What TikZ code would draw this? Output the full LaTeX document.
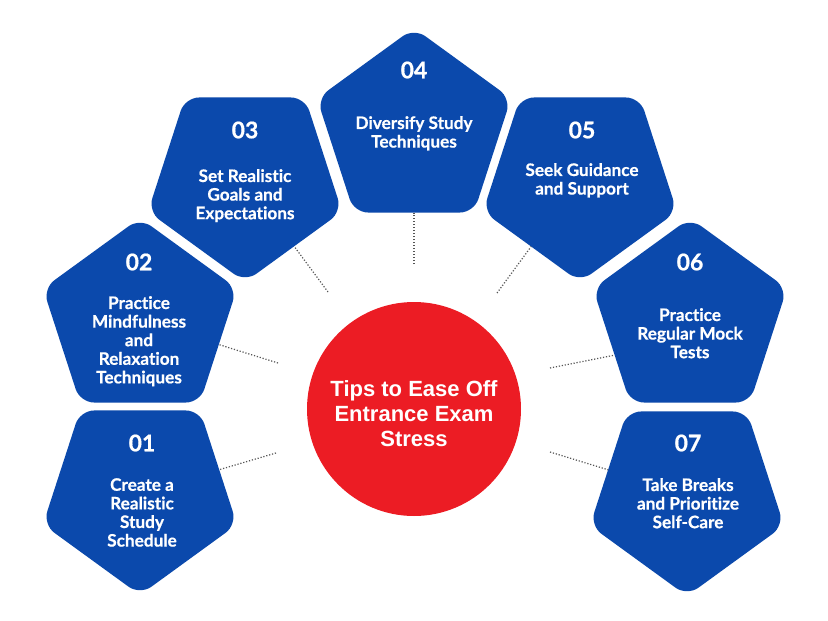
\documentclass[tikz,border=0pt]{standalone}
\usepackage{fontspec}
\setmainfont{Lato}[Ligatures={NoCommon,NoRare}]
\newfontfamily\titlefont{Liberation Sans}
\usetikzlibrary{shapes.geometric}
\definecolor{pentblue}{RGB}{11,73,172}
\definecolor{hubred}{RGB}{236,28,36}
\definecolor{dotgray}{RGB}{85,85,85}
\tikzset{
  pent/.style={regular polygon, regular polygon sides=5, minimum size=204pt,
    inner sep=0pt, outer sep=0pt, fill=pentblue, rounded corners=14pt},
  pentdown/.style={pent, shape border rotate=180},
  numtext/.style={text=white, font=\bfseries\fontsize{23}{26}\selectfont\addfontfeatures{FakeBold=0.6}, inner sep=0pt},
  labtext/.style={text=white, font=\bfseries\fontsize{17.2}{18.6}\selectfont\addfontfeatures{FakeBold=0.6}, align=center, anchor=north, inner sep=0pt},
  dotline/.style={dotgray, line width=1.2pt, dash pattern=on 1.2pt off 1.8pt}
}
\begin{document}
\begin{tikzpicture}[x=1pt,y=-1pt]
\useasboundingbox (0,0) rectangle (828,621);
\fill[white] (0,0) rectangle (828,621);

% pentagons
\node[pentdown] (p1) at (140,493) {};
\node[pent]     (p2) at (140,320) {};
\node[pentdown] (p3) at (245,180) {};
\node[pent]     (p4) at (414,130) {};
\node[pentdown] (p5) at (580,180) {};
\node[pent]     (p6) at (690,320) {};
\node[pentdown] (p7) at (687,494) {};

% hub
\node[circle, fill=hubred, minimum size=214pt, inner sep=0pt, outer sep=0pt] (hub) at (414,409) {};
\node[text=white, font=\titlefont\bfseries\fontsize{22}{25}\selectfont, align=center] (title) at (414,414)
  {Tips to Ease Off\\Entrance Exam\\Stress};

% inner ends
\coordinate (c1) at (276,453);
\coordinate (c2) at (278,363);
\coordinate (c3) at (328,292);
\coordinate (c4) at (414,264);
\coordinate (c5) at (497,293);
\coordinate (c6) at (550,368);
\coordinate (c7) at (550,452);

\draw[dotline] (c1) -- (p1);
\draw[dotline] (c2) -- (p2);
\draw[dotline] (c3) -- (p3);
\draw[dotline] (c4) -- (p4);
\draw[dotline] (c5) -- (p5);
\draw[dotline] (c6) -- (p6.205);
\draw[dotline] (c7) -- (p7);

% numbers
\node[numtext] (n1) at (142,443) {01};
\node[numtext] (n2) at (139,262) {02};
\node[numtext] (n3) at (245,130) {03};
\node[numtext] (n4) at (414,70) {04};
\node[numtext] (n5) at (582,130) {05};
\node[numtext] (n6) at (690,262) {06};
\node[numtext] (n7) at (688,443) {07};

% labels
\node[labtext] (l1) at (142,478) {Create a\\Realistic\\Study\\Schedule};
\node[labtext] (l2) at (139,296) {Practice\\Mindfulness\\and\\Relaxation\\Techniques};
\node[labtext] (l3) at (245,169) {Set Realistic\\Goals and\\Expectations};
\node[labtext] (l4) at (414,116) {Diversify Study\\Techniques};
\node[labtext] (l5) at (582,163) {Seek Guidance\\and Support};
\node[labtext] (l6) at (690,308) {Practice\\Regular Mock\\Tests};
\node[labtext] (l7) at (688,478) {Take Breaks\\and Prioritize\\Self-Care};
\end{tikzpicture}
\end{document}
